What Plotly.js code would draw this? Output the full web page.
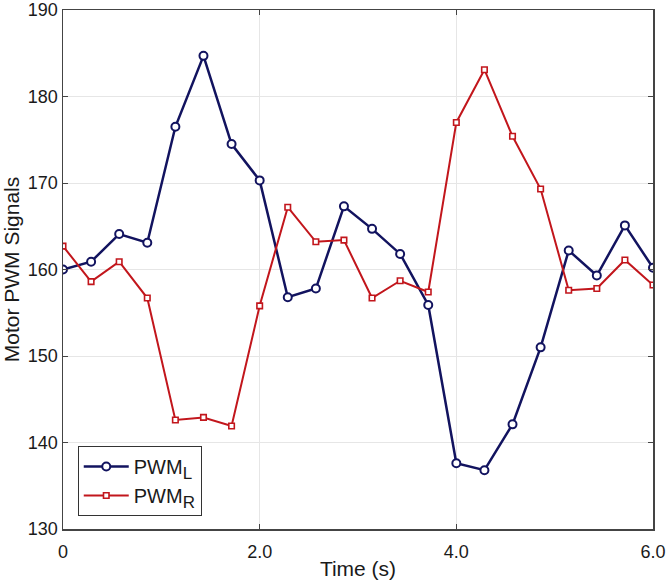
<!DOCTYPE html>
<html>
<head>
<meta charset="utf-8">
<script src="https://cdn.plot.ly/plotly-3.0.1.min.js"></script>
<style>
  html, body { margin: 0; padding: 0; background: #fff; }
  #myDiv { width: 669px; height: 585px; }
</style>
</head>
<body>
<div id="myDiv"></div>
<script>
// sample times, 22 samples over 6 s
var time = [];
for (var i = 0; i < 22; i++) {
  time.push(i * 6 / 21);
}

var pwmL = [160.0, 160.9, 164.1, 163.1, 176.5, 184.7, 174.5, 170.3, 156.8, 157.8, 167.3,
            164.7, 161.8, 155.9, 137.6, 136.8, 142.1, 151.0, 162.2, 159.3, 165.1, 160.2];
var pwmR = [162.7, 158.6, 160.9, 156.7, 142.6, 142.9, 141.9, 155.8, 167.2, 163.2, 163.4,
            156.7, 158.7, 157.4, 177.0, 183.1, 175.4, 169.3, 157.6, 157.8, 161.1, 158.2];

var xTickVals = [0, 2, 4, 6];
var xTickText = ['0', '2.0', '4.0', '6.0'];
var yTickVals = [130, 140, 150, 160, 170, 180, 190];

var trace1 = {
  x: time,
  y: pwmL,
  name: 'PWM<sub><span style="font-size:17px">L</span></sub>',
  type: 'scatter',
  mode: 'lines+markers',
  line: { color: '#12135f', width: 2.5 },
  marker: { symbol: 'circle', size: 8, color: '#ffffff', line: { color: '#12135f', width: 2 } }
};

var trace2 = {
  x: time,
  y: pwmR,
  name: 'PWM<sub><span style="font-size:17px">R</span></sub>',
  type: 'scatter',
  mode: 'lines+markers',
  line: { color: '#c2161c', width: 2 },
  marker: { symbol: 'square', size: 5.5, color: '#ffffff', line: { color: '#c2161c', width: 1.6 } }
};

var layout = {
  width: 669,
  height: 585,
  margin: { l: 63, r: 16, t: 10, b: 56 },
  paper_bgcolor: '#ffffff',
  plot_bgcolor: '#ffffff',
  font: { family: 'Liberation Sans, Arial, sans-serif', size: 18, color: '#1a1a1a' },
  showlegend: true,
  legend: {
    x: 0.025, y: 0.025, xanchor: 'left', yanchor: 'bottom',
    bgcolor: '#ffffff', bordercolor: '#333333', borderwidth: 1,
    font: { size: 20, color: '#1a1a1a' },
    itemwidth: 45
  },
  xaxis: {
    range: [0, 6],
    tickvals: xTickVals,
    ticktext: xTickText,
    ticks: 'inside', ticklen: 5, tickcolor: '#444',
    mirror: 'ticks',
    showline: true, linecolor: '#444', linewidth: 1.5,
    showgrid: true, gridcolor: '#e6e6e6', gridwidth: 1,
    zeroline: false,
    tickfont: { size: 18 },
    ticklabelstandoff: 6,
    title: { text: 'Time (s)', font: { size: 21 }, standoff: 0 }
  },
  yaxis: {
    range: [130, 190],
    tickvals: yTickVals,
    ticks: 'inside', ticklen: 5, tickcolor: '#444',
    mirror: 'ticks',
    showline: true, linecolor: '#444', linewidth: 1.5,
    showgrid: true, gridcolor: '#e6e6e6', gridwidth: 1,
    zeroline: false,
    tickfont: { size: 18 },
    title: { text: 'Motor PWM Signals', font: { size: 21 }, standoff: 4 }
  }
};

Plotly.newPlot('myDiv', [trace1, trace2], layout, { displayModeBar: false, staticPlot: true });
</script>
</body>
</html>
